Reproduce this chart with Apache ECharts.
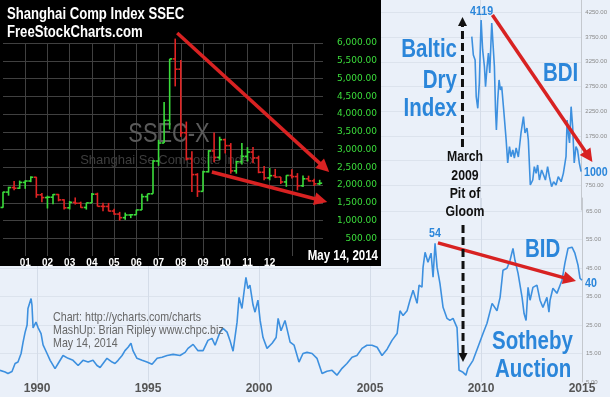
<!DOCTYPE html>
<html><head><meta charset="utf-8">
<script src="https://cdn.jsdelivr.net/npm/echarts@6/dist/echarts.min.js"></script>
<style>html,body{margin:0;padding:0;background:#eaf0f9}#c{width:610px;height:397px}</style>
</head><body><div id="c"></div>
<script>
// ---------- Shanghai Composite (SSEC) quarterly OHLC ----------
const ssecQuarters = ['2000-1','2000-2','2000-3','2000-4','2001-1','2001-2','2001-3','2001-4',
 '2002-1','2002-2','2002-3','2002-4','2003-1','2003-2','2003-3','2003-4','2004-1','2004-2','2004-3','2004-4',
 '2005-1','2005-2','2005-3','2005-4','2006-1','2006-2','2006-3','2006-4','2007-1','2007-2','2007-3','2007-4',
 '2008-1','2008-2','2008-3','2008-4','2009-1','2009-2','2009-3','2009-4','2010-1','2010-2','2010-3','2010-4',
 '2011-1','2011-2','2011-3','2011-4','2012-1','2012-2','2012-3','2012-4','2013-1','2013-2','2013-3','2013-4',
 '2014-1','2014-2'];
const ssecOpen  = [1368,1800,1928,1910,2073,2112,2218,1724,1646,1656,1732,1581,1357,1511,1487,1367,1497,1741,1399,1396,
 1266,1181,1080,1155,1161,1298,1672,1752,2675,3183,3820,5552,5262,3473,2736,2293,1821,2373,2959,2779,3277,3109,2398,2656,
 2808,2928,2762,2359,2199,2263,2225,2086,2269,2237,1979,2175,2116,2033];
const ssecHigh  = [1811,1950,2115,2125,2135,2245,2230,1776,1700,1748,1748,1600,1550,1649,1530,1498,1776,1783,1503,1496,
 1329,1243,1223,1183,1306,1757,1750,2698,3274,4335,5552,6124,5522,3786,2952,2333,2402,2982,3478,3361,3306,3181,2681,3186,
 3067,3067,2826,2536,2478,2453,2228,2276,2444,2334,2270,2263,2177,2146];
const ssecLow   = [1361,1700,1850,1890,1893,2080,1640,1514,1339,1455,1540,1311,1311,1450,1357,1307,1496,1397,1259,1259,
 1160,998,1020,1067,1161,1298,1541,1752,2541,3183,3563,4778,3357,2693,1802,1664,1814,2353,2639,2712,2890,2319,2319,2574,
 2661,2610,2331,2132,2132,2196,2029,1949,2180,1849,1941,2100,1974,1997];
const ssecClose = [1800,1928,1910,2073,2112,2218,1724,1646,1656,1732,1581,1357,1511,1487,1367,1497,1741,1399,1396,1266,
 1181,1080,1155,1161,1298,1672,1752,2675,3183,3820,5552,5262,3473,2736,2293,1821,2373,2959,2779,3277,3109,2398,2656,2808,
 2928,2762,2359,2199,2263,2225,2086,2269,2237,1979,2175,2116,2033,2051];
const ssecLast = 2050.73;
const ssecYearLabels = {2001:'01',2002:'02',2003:'03',2004:'04',2005:'05',2006:'06',2007:'07',2008:'08',2009:'09',2010:'10',2011:'11',2012:'12'};

// ---------- Sotheby's (BID) ----------
const bidYears = [1988.33,1988.56,1988.69,1988.87,1989.01,1989.14,1989.28,1989.37,1989.46,1989.55,1989.59,1989.73,1989.77,1989.82,1989.95,
 1990.05,1990.18,1990.27,1990.45,1990.59,1990.81,1990.95,1991.17,1991.40,1991.62,1991.85,1992.07,1992.30,1992.52,1992.70,1992.84,
 1993.15,1993.38,1993.51,1993.65,1993.83,1993.96,1994.10,1994.23,1994.32,1994.50,1994.73,1994.95,1995.18,1995.41,1995.63,1995.86,
 1996.13,1996.44,1996.67,1996.80,1997.03,1997.25,1997.48,1997.70,1997.88,1998.02,1998.24,1998.38,1998.56,1998.69,1998.83,
 1999.01,1999.10,1999.23,1999.32,1999.41,1999.50,1999.59,1999.73,1999.82,1999.95,2000.05,2000.18,2000.36,2000.59,2000.77,2000.86,2000.99,
 2001.17,2001.40,2001.58,2001.80,2001.98,2002.16,2002.39,2002.61,2002.84,2003.06,2003.29,2003.51,2003.74,2003.96,
 2004.19,2004.41,2004.64,2004.86,2005.09,2005.32,2005.54,2005.77,2005.99,2006.22,2006.35,2006.49,2006.67,2006.80,2006.94,
 2007.12,2007.21,2007.34,2007.39,2007.48,2007.61,2007.75,2007.84,2007.93,2008.02,2008.15,2008.29,2008.47,2008.60,2008.74,2008.92,
 2009.01,2009.19,2009.32,2009.41,2009.64,2009.86,2010.09,2010.27,2010.50,2010.72,2010.86,2010.99,2011.17,2011.31,2011.44,2011.53,
 2011.67,2011.85,2011.94,2012.03,2012.12,2012.21,2012.34,2012.52,2012.66,2012.79,2012.97,2013.06,2013.11,2013.24,2013.42,
 2013.65,2013.78,2013.92,2014.10,2014.23,2014.37,2014.46,2014.55];
const bidValues = [9.1,8.5,8.0,8.7,11.5,12.0,15.0,19.0,22.4,25.0,30.8,34.3,32.0,24.0,26.0,
 24.0,22.0,18.0,15.0,12.6,9.7,11.5,14.3,13.3,12.6,10.8,12.6,12.0,12.6,10.8,10.1,
 13.3,12.0,11.5,12.6,14.3,16.0,17.2,18.6,16.0,13.3,12.6,12.0,11.2,13.3,13.7,14.3,
 14.7,14.3,15.4,16.8,18.2,16.0,16.0,19.6,20.3,17.9,22.5,23.8,22.5,19.6,15.8,
 26.0,34.7,30.8,36.4,41.7,37.8,39.0,32.0,29.5,33.7,26.6,20.6,16.8,18.6,20.6,27.3,23.0,
 26.6,19.0,17.9,12.0,15.0,15.4,15.0,13.3,8.0,8.8,9.1,7.4,9.8,11.5,
 13.7,14.3,16.8,17.9,17.9,17.2,14.3,16.5,19.6,22.0,30.0,28.3,30.0,33.7,37.2,
 32.6,39.0,38.3,45.3,50.5,47.0,50.2,41.8,53.7,45.3,39.6,31.2,27.3,26.6,27.3,24.1,
 9.1,8.4,7.4,9.8,12.6,17.2,22.0,25.6,32.6,30.0,34.7,44.2,44.9,47.7,51.9,47.7,
 43.1,34.7,29.0,26.6,38.2,33.7,38.2,39.0,33.7,31.2,34.7,29.5,33.7,37.9,36.1,
 40.7,46.7,51.9,52.3,50.2,46.0,41.4,40.7];

// ---------- Baltic Dry Index (BDI) ----------
const bdiYears = [2009.61,2009.68,2009.76,2009.81,2009.88,2009.95,2010.03,2010.10,2010.18,2010.23,2010.30,2010.36,2010.42,2010.51,2010.57,
 2010.63,2010.68,2010.72,2010.78,2010.84,2010.90,2010.96,2011.05,2011.16,2011.23,2011.31,2011.38,2011.46,2011.53,2011.61,2011.71,
 2011.83,2011.94,2012.01,2012.10,2012.16,2012.25,2012.36,2012.43,2012.51,2012.58,2012.66,2012.76,2012.85,2012.93,2013.03,2013.11,
 2013.21,2013.30,2013.41,2013.51,2013.64,2013.74,2013.86,2013.91,2013.98,2014.02,2014.09,2014.16,2014.23,2014.31,2014.38,2014.46,2014.54];
const bdiValues = [3758,3388,3286,2544,2308,2820,4096,3489,3151,2746,3151,3428,3023,4035,4062,
 3151,2274,1869,2477,2882,2679,2746,2274,1667,1201,1532,1329,1465,1302,1505,1323,
 1809,2139,1809,1910,1667,756,857,1127,992,1161,857,1060,958,857,1127,924,
 722,823,756,924,823,992,1329,2072,1734,1606,2341,1936,1201,1532,1465,1201,1025];

// ---------- annotation anchors (data coordinates) ----------
const ssecArrowA = [[2007.84, 6282], [2014.68, 2366]];
const ssecArrowB = [[2009.40, 2366], [2014.59, 1521]];
const bdiArrow   = [[2010.54, 4197], [2015.05, 1222]];
const bidArrow   = [[2008.06, 53.8], [2014.28, 40.4]];
const gloomTop    = [[2009.19, 1525], [2009.19, 4157]];   // BDI scale
const gloomBottom = [[2009.19, 60.1], [2009.19, 12.0]];   // BID scale

const SANS = '"Liberation Sans",Arial,sans-serif';
const NARROW_SCALE = 0.82;
const BLUE = '#2b86da', LINE = '#3d90df', RED = '#d82222', GREEN = '#3bdc3b', DOWN = '#e02424';

const ohlc = ssecQuarters.map((q, i) => {
  const [y, n] = q.split('-').map(Number);
  return [y + (n - 1) / 4, ssecOpen[i], ssecHigh[i], ssecLow[i], ssecClose[i]];
});

const chart = echarts.init(document.getElementById('c'), null, {renderer: 'canvas'});
const fmtComma = v => v.toLocaleString('en-US', {minimumFractionDigits: 2, maximumFractionDigits: 2});

chart.setOption({
  animation: false,
  backgroundColor: '#eaf0f9',
  grid: [
    {left: 0, right: 28, top: 198, bottom: 15},
    {left: 0, right: 28, top: 0, bottom: 187},
    {left: 2, right: 287, top: 43, bottom: 141}
  ],
  xAxis: [
    {type: 'value', gridIndex: 0, min: 1988.33, max: 2014.55,
     axisLine: {show: false}, axisTick: {show: false},
     axisLabel: {formatter: v => String(Math.round(v)), showMinLabel: false, showMaxLabel: true,
       color: '#555', fontWeight: 'bold', fontSize: 12, margin: 1, fontFamily: SANS},
     splitLine: {show: true, showMinLine: false, showMaxLine: false, lineStyle: {color: '#d4dce8', width: 1}}},
    {type: 'value', gridIndex: 1, min: 1988.33, max: 2014.55,
     axisLine: {show: false}, axisTick: {show: false}, axisLabel: {show: false},
     splitLine: {show: true, showMinLine: false, showMaxLine: false, lineStyle: {color: '#d4dce8', width: 1}}},
    {type: 'value', gridIndex: 2, min: 2000, max: 2014.4, interval: 1, z: 4,
     axisLine: {show: false}, axisTick: {show: false},
     axisLabel: {formatter: v => ssecYearLabels[Math.round(v)] && Math.abs(v - Math.round(v)) < 1e-6 ? ssecYearLabels[Math.round(v)] : '',
       color: '#fff', fontWeight: 'bold', fontSize: 10, margin: 2, fontFamily: SANS},
     splitLine: {show: true, showMinLine: false, showMaxLine: false, lineStyle: {color: '#404040', width: 1}}}
  ],
  yAxis: [
    {type: 'value', gridIndex: 0, position: 'right', min: 5, max: 69.56, interval: 10,
     axisLine: {show: true, lineStyle: {color: '#c4c8ce'}}, axisTick: {show: false},
     axisLabel: {formatter: v => v.toFixed(2), showMaxLabel: false, color: '#8a8a8a', fontSize: 6, margin: 4},
     splitLine: {show: true, showMinLine: false, showMaxLine: false, lineStyle: {color: '#dce3ed'}}},
    {type: 'value', gridIndex: 1, position: 'right', min: 250, max: 4500, interval: 500,
     axisLine: {show: true, lineStyle: {color: '#c4c8ce'}}, axisTick: {show: false},
     axisLabel: {formatter: v => (v === 1250 ? '' : v.toFixed(2)), showMinLabel: false, showMaxLabel: false, color: '#8a8a8a', fontSize: 6, margin: 4},
     splitLine: {show: true, showMinLine: false, showMaxLine: false, lineStyle: {color: '#dce3ed'}}},
    {type: 'value', gridIndex: 2, position: 'right', min: 0, max: 6000, interval: 500, z: 4,
     axisLine: {show: false}, axisTick: {show: false},
     axisLabel: {formatter: v => fmtComma(v), showMinLabel: false, color: GREEN, fontSize: 9, align: 'right', margin: 54,
       fontFamily: '"DejaVu Sans",sans-serif'},
     splitLine: {show: true, showMinLine: false, lineStyle: {color: '#404040', width: 1}}}
  ],
  series: [
    {type: 'line', xAxisIndex: 0, yAxisIndex: 0, data: bidYears.map((x, i) => [x, bidValues[i]]),
     showSymbol: false, silent: true, lineStyle: {color: LINE, width: 1.6}, z: 2},
    {type: 'line', xAxisIndex: 1, yAxisIndex: 1, data: bdiYears.map((x, i) => [x, bdiValues[i]]),
     showSymbol: false, silent: true, lineStyle: {color: LINE, width: 1.6}, z: 2},
    {type: 'custom', xAxisIndex: 2, yAxisIndex: 2, data: ohlc, z: 5, silent: true,
     encode: {x: 0, y: [1, 2, 3, 4]},
     renderItem: (params, api) => {
       const x = api.value(0), o = api.value(1), h = api.value(2), l = api.value(3), c = api.value(4);
       const pH = api.coord([x, h]), pL = api.coord([x, l]), pO = api.coord([x, o]), pC = api.coord([x, c]);
       const col = c >= o ? GREEN : DOWN;
       const st = {stroke: col, lineWidth: 1.6};
       return {type: 'group', children: [
         {type: 'line', shape: {x1: pH[0], y1: pH[1], x2: pL[0], y2: pL[1]}, style: st},
         {type: 'line', shape: {x1: pO[0] - 2.5, y1: pO[1], x2: pO[0], y2: pO[1]}, style: st},
         {type: 'line', shape: {x1: pC[0], y1: pC[1], x2: pC[0] + 2.5, y2: pC[1]}, style: st}
       ]};
     }},
    {type: 'scatter', xAxisIndex: 2, yAxisIndex: 2, data: [[2014.4, ssecLast]], symbolSize: 1, silent: true, clip: false,
     itemStyle: {opacity: 0}, z: 6,
     label: {show: true, position: 'right', distance: 14, formatter: () => fmtComma(ssecLast),
       color: '#fff', backgroundColor: '#000', borderColor: '#fff', borderWidth: 1, borderRadius: 3,
       padding: [2, 2, 1, 2], fontSize: 9, fontFamily: '"DejaVu Sans",sans-serif'}}
  ]
});

function px(xi, yi, p) { return chart.convertToPixel({xAxisIndex: xi, yAxisIndex: yi}, p); }
function arrow(p1, p2, color, lw, head, hwRatio, dash) {
  const dx = p2[0] - p1[0], dy = p2[1] - p1[1], len = Math.hypot(dx, dy), ux = dx / len, uy = dy / len;
  const bx = p2[0] - ux * head, by = p2[1] - uy * head, nx = -uy, ny = ux, hw = head * hwRatio;
  return [
    {type: 'line', z: 8, shape: {x1: p1[0], y1: p1[1], x2: bx + ux, y2: by + uy},
     style: {stroke: color, lineWidth: lw, lineDash: dash || null, lineCap: 'butt'}},
    {type: 'polygon', z: 8, shape: {points: [[p2[0], p2[1]], [bx + nx * hw, by + ny * hw], [bx - nx * hw, by - ny * hw]]},
     style: {fill: color}}
  ];
}
// condensed text: drawn at (x, y) and squeezed horizontally around its anchor
function txt(text, x, y, opt) {
  opt = opt || {};
  const sx = opt.sx != null ? opt.sx : NARROW_SCALE;
  const z = opt.z != null ? opt.z : 10;
  const st = Object.assign({text: text, x: 0, y: 0, align: 'left', verticalAlign: 'middle',
    fill: BLUE, fontFamily: SANS, fontWeight: 'bold', fontSize: 25}, opt);
  delete st.sx; delete st.z;
  return {type: 'text', z: z, x: x, y: y, scaleX: sx, scaleY: 1, style: st};
}

const els = [
  {type: 'rect', z: 3, shape: {x: 0, y: 0, width: 381, height: 266}, style: {fill: '#000'}},
  txt('SSEC-X', 169, 134, {align: 'center', fill: '#5a5a5a', fontWeight: 'normal', fontSize: 28, z: 4, sx: 0.78}),
  txt('Shanghai Se Composite Index', 168, 160, {align: 'center', fill: '#3e3e3e', fontWeight: 'normal', fontSize: 13, z: 4, sx: 1}),
  txt('Shanghai Comp Index SSEC', 7, 15, {fill: '#fff', fontSize: 16}),
  txt('FreeStockCharts.com', 7, 33, {fill: '#fff', fontSize: 16}),
  txt('May 14, 2014', 378, 256, {fill: '#fff', fontSize: 14, align: 'right'}),
  txt('Baltic', 457, 50, {align: 'right'}),
  txt('Dry', 457, 81, {align: 'right'}),
  txt('Index', 457, 109, {align: 'right'}),
  txt('BDI', 543, 74),
  txt('4119', 470, 11, {fontSize: 13}),
  txt('1000', 584, 172, {fontSize: 13}),
  txt('March', 465, 157, {align: 'center', fill: '#111', fontSize: 15}),
  txt('2009', 465, 176, {align: 'center', fill: '#111', fontSize: 15}),
  txt('Pit of', 465, 194, {align: 'center', fill: '#111', fontSize: 15}),
  txt('Gloom', 465, 212, {align: 'center', fill: '#111', fontSize: 15}),
  txt('54', 429, 233, {fontSize: 13}),
  txt('BID', 525, 250),
  txt('40', 585, 283, {fontSize: 13}),
  txt('Sotheby', 492, 342),
  txt('Auction', 495, 370),
  txt('Chart: http://ycharts.com/charts', 53, 317, {fill: '#666', fontWeight: 'normal', fontSize: 13}),
  txt('MashUp: Brian Ripley www.chpc.biz', 53, 330, {fill: '#666', fontWeight: 'normal', fontSize: 13}),
  txt('May 14, 2014', 53, 343, {fill: '#666', fontWeight: 'normal', fontSize: 13})
];
els.push(...arrow(px(2, 2, ssecArrowA[0]), px(2, 2, ssecArrowA[1]), RED, 3.5, 13, 0.5));
els.push(...arrow(px(2, 2, ssecArrowB[0]), px(2, 2, ssecArrowB[1]), RED, 3.5, 13, 0.5));
els.push(...arrow(px(1, 1, bdiArrow[0]), px(1, 1, bdiArrow[1]), RED, 3.5, 13, 0.5));
els.push(...arrow(px(0, 0, bidArrow[0]), px(0, 0, bidArrow[1]), RED, 3.5, 13, 0.5));
els.push(...arrow(px(1, 1, gloomTop[0]), px(1, 1, gloomTop[1]), '#111', 3, 9, 0.5, [8, 4]));
els.push(...arrow(px(0, 0, gloomBottom[0]), px(0, 0, gloomBottom[1]), '#111', 3, 9, 0.5, [8, 4]));
chart.setOption({graphic: {elements: els}});
</script></body></html>
